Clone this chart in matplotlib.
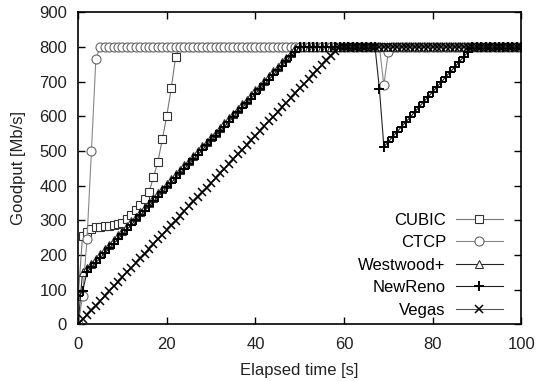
import matplotlib
matplotlib.use('Agg')
import matplotlib.pyplot as plt

plt.rcParams['font.family'] = ['Liberation Sans', 'DejaVu Sans']

# elapsed time, one sample per second
t = list(range(0, 101))

cubic = [80, 255, 265, 275, 280, 281, 282, 284, 286, 288, 293, 303, 315, 330,
         345, 362, 382, 424, 469, 534, 601, 680, 771] + [800] * 78

ctcp = [0, 80, 245, 500, 766] + [800] * 64 + [690, 785] + [800] * 30

westwood = [0, 152, 162, 175, 189, 202, 216, 229, 243, 256, 270, 283, 297, 310,
            324, 337, 351, 364, 378, 391, 405, 418, 432, 445, 459, 472, 486,
            499, 513, 526, 540, 553, 567, 580, 594, 607, 621, 634, 648, 661,
            675, 688, 702, 715, 729, 742, 756, 769, 783, 796] + [800] * 51

newreno = [80, 95, 150, 165, 178, 192, 205, 219, 232, 246, 260, 273, 287, 300,
           314, 327, 341, 354, 368, 381, 395, 408, 422, 435, 449, 462, 476,
           489, 503, 516, 530, 543, 557, 570, 584, 597, 611, 624, 638, 651,
           665, 678, 692, 705, 719, 732, 746, 759, 773, 786] + [800] * 18 + \
          [678, 512, 526, 541, 555, 570, 584, 598, 613, 627, 642, 656, 670,
           685, 699, 714, 728, 742, 757, 771, 786] + [800] * 12

vegas = [0, 14, 27, 41, 54, 68, 82, 95, 109, 122, 136, 150, 163, 177, 190, 204,
         218, 231, 245, 258, 272, 286, 299, 313, 326, 340, 354, 367, 381, 394,
         408, 422, 435, 449, 462, 476, 490, 503, 517, 530, 544, 558, 571, 585,
         598, 612, 626, 639, 653, 666, 680, 694, 707, 721, 734, 748, 762, 775,
         789] + [800] * 42

fs = 12
fig = plt.figure(figsize=(5.39, 3.81), dpi=100)
ax = fig.add_axes([0.145, 0.149, 0.822, 0.819])

ax.plot(t, cubic, color='#777777', lw=0.8, marker='s', ms=5.5, mfc='white',
        mec='#333333', mew=0.8, label='CUBIC')
ax.plot(t, ctcp, color='#888888', lw=0.8, marker='o', ms=6.5, mfc='white',
        mec='#666666', mew=0.8, label='CTCP')
ax.plot(t, westwood, color='#222222', lw=0.8, marker='^', ms=5.5, mfc='white',
        mec='#333333', mew=0.8, label='Westwood+')
ax.plot(t, newreno, color='#222222', lw=0.8, marker='+', ms=7.5,
        mec='black', mew=1.4, label='NewReno')
ax.plot(t, vegas, color='#555555', lw=0.8, marker='x', ms=5.5,
        mec='black', mew=1.1, label='Vegas')

ax.set_xlim(0, 100)
ax.set_ylim(0, 900)
ax.set_xticks([0, 20, 40, 60, 80, 100])
ax.set_yticks(range(0, 901, 100))
ax.tick_params(direction='in', length=5, width=1, top=True, right=True,
               labelsize=fs, labelcolor='#222222')
ax.tick_params(axis='x', pad=9)
ax.tick_params(axis='y', pad=8)
for s in ax.spines.values():
    s.set_linewidth(1.2)

ax.set_xlabel('Elapsed time [s]', fontsize=fs, color='#222222')
ax.set_ylabel('Goodput [Mb/s]', fontsize=fs, color='#222222')
ax.xaxis.set_label_coords(0.5, -0.125)
ax.yaxis.set_label_coords(-0.117, 0.5)

ax.legend(loc='lower right', bbox_to_anchor=(0.973, 0.0), borderaxespad=0,
          frameon=False, markerfirst=False, fontsize=fs, handlelength=2.8,
          labelspacing=0.45, handletextpad=0.6)

fig.savefig('out.png', dpi=100)
